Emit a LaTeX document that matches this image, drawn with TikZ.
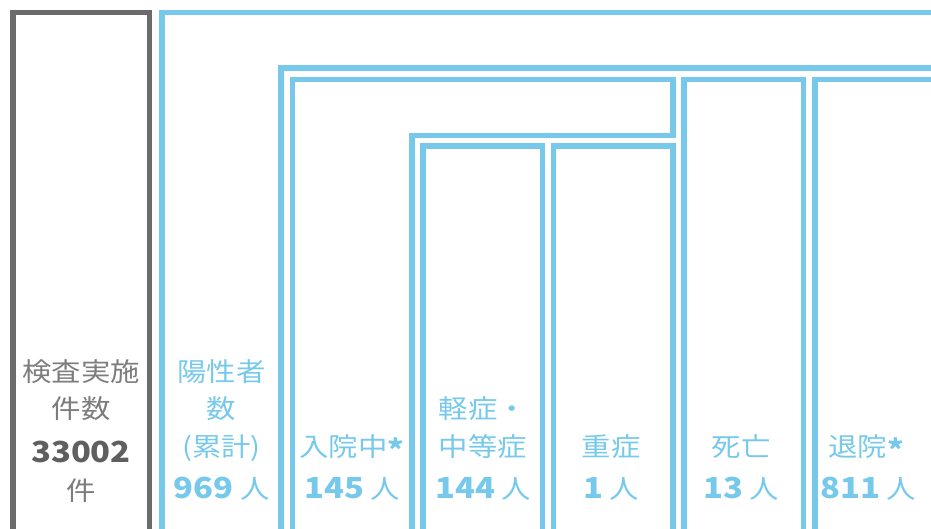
\documentclass[tikz,border=0pt]{standalone}
\usepackage{fontspec}
\setmainfont{Noto Sans CJK JP}[FakeStretch=1.13]
\definecolor{frgray}{HTML}{6B6B6B}
\definecolor{skyb}{HTML}{76C9EB}
\definecolor{lblgray}{HTML}{7D7D7D}
\definecolor{numgray}{HTML}{5F5F5F}
\newcommand{\astk}{\raisebox{-4pt}{\fontsize{28}{28}\selectfont\bfseries *}}
\tikzset{
  frame/.style={line width=5.5pt},
  lbl/.style={anchor=base, inner sep=0pt, font=\fontsize{26}{30}\selectfont},
  num/.style={anchor=base, inner sep=0pt, font=\fontsize{29}{32}\selectfont\bfseries},
}
\begin{document}
\begin{tikzpicture}[x=1pt,y=-1pt]
\useasboundingbox (0,0) rectangle (931,529);
\begin{scope}
\clip (0,0) rectangle (931,529);
% frames
\draw[frame, frgray] (13,12.5) rectangle (149.5,532);
\draw[frame, skyb] (162,12.5) rectangle (960,532);
\draw[frame, skyb] (281,68) rectangle (950,532);
\draw[frame, skyb] (292.5,532) -- (292.5,79.5) -- (673,79.5) -- (673,135.5) -- (412,135.5) -- (412,532) -- cycle;
\draw[frame, skyb] (423,146) rectangle (542.5,532);
\draw[frame, skyb] (553.5,146) rectangle (673,532);
\draw[frame, skyb] (684,79.5) rectangle (803.5,532);
\draw[frame, skyb] (815,79.5) rectangle (935,532);
\end{scope}
% gray column
\node[lbl, text=lblgray] (k1) at (81,381) {検査実施};
\node[lbl, text=lblgray] (k2) at (81,418) {件数};
\node[num, text=numgray] (k3) at (81,462) {33002};
\node[lbl, text=lblgray] (k4) at (81,500) {件};
% positives
\node[lbl, text=skyb] (p1) at (221.5,381) {陽性者};
\node[lbl, text=skyb] (p2) at (221.5,418) {数};
\node[lbl, text=skyb] (p3) at (221.5,456) {(累計)};
\node[lbl, text=skyb] (p4) at (221.5,498) {{\fontsize{29}{32}\selectfont\bfseries 969} 人};
% hospitalised
\node[lbl, text=skyb] (h1) at (352,456) {入院中\astk};
\node[lbl, text=skyb] (h2) at (352,498) {{\fontsize{29}{32}\selectfont\bfseries 145} 人};
% mild
\node[lbl, text=skyb] (m1) at (483,418) {軽症・};
\node[lbl, text=skyb] (m2) at (483,456) {中等症};
\node[lbl, text=skyb] (m3) at (483,498) {{\fontsize{29}{32}\selectfont\bfseries 144} 人};
% severe
\node[lbl, text=skyb] (s1) at (611,456) {重症};
\node[lbl, text=skyb] (s2) at (611,498) {{\fontsize{29}{32}\selectfont\bfseries 1} 人};
% death
\node[lbl, text=skyb] (d1) at (741,456) {死亡};
\node[lbl, text=skyb] (d2) at (741,498) {{\fontsize{29}{32}\selectfont\bfseries 13} 人};
% discharged
\node[lbl, text=skyb] (r1) at (866,456) {退院\astk};
\node[lbl, text=skyb] (r2) at (868,498) {{\fontsize{29}{32}\selectfont\bfseries 811} 人};
\end{tikzpicture}
\end{document}
